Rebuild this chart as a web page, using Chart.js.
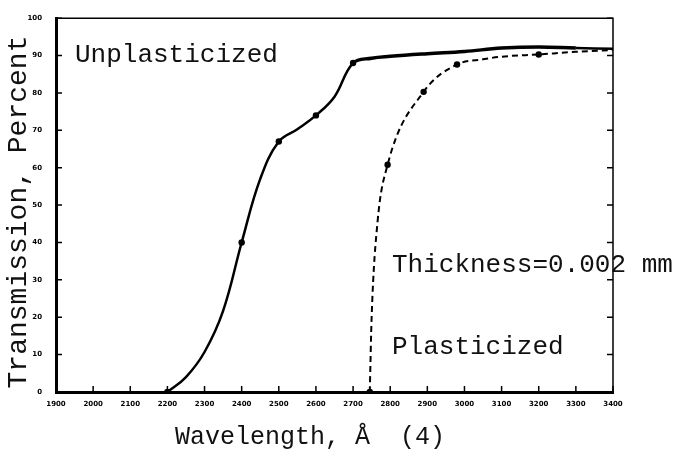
<!DOCTYPE html>
<html>
<head>
<meta charset="utf-8">
<script src="https://cdn.jsdelivr.net/npm/chart.js@4"></script>
<style>
  body { margin: 0; background: #fff; }
</style>
</head>
<body>
<canvas id="canvas" width="675" height="453"></canvas>
<script>
//****DATA****//

var unplasticizedWave = [2200, 2250, 2300, 2350, 2400, 2450, 2500, 2550, 2600, 2650, 2700, 2750, 2800, 2900, 3000, 3100, 3200, 3300, 3400];
var unplasticizedT = [0, 4, 10.7, 21.7, 40, 57, 67, 70.3, 74, 79, 88, 89.3, 89.8, 90.5, 91.1, 92, 92.3, 92, 91.8];
var unplasticizedDots = [2200, 2400, 2500, 2600, 2700];

var plasticizedWave = [2745, 2750, 2766, 2793, 2890, 2980, 3050, 3100, 3200, 3300, 3400];
var plasticizedT = [0, 20, 45.6, 60.8, 80.3, 87.6, 89, 89.7, 90.3, 91, 91.5];
var plasticizedDots = [2745, 2793, 2890, 2980, 3200];

var xTitle = 'Wavelength, Å  (4)';
var yTitle = 'Transmission, Percent';
var notes = [
  { text: 'Unplasticized', x: 75, y: 55 },
  { text: 'Thickness=0.002 mm', x: 392, y: 265 },
  { text: 'Plasticized', x: 392, y: 347 }
];

//****HELPERS****//

function toPoints(xs, ys) {
  var pts = [];
  for (var i = 0; i < xs.length; i++) {
    pts.push({ x: xs[i], y: ys[i] });
  }
  return pts;
}

function dotRadius(xs, dots) {
  return xs.map(function (x) { return dots.indexOf(x) >= 0 ? 3.2 : 0; });
}

var noteFont = '26px "Liberation Mono", "DejaVu Sans Mono", monospace';
var yTitleFont = '28px "Liberation Mono", "DejaVu Sans Mono", monospace';
var xTitleFont = '25px "Liberation Mono", "DejaVu Sans Mono", monospace';

//****PLUGIN: box, inward ticks, texts****//

var paperPlugin = {
  id: 'paper',
  afterDraw: function (chart) {
    var ctx = chart.ctx;
    var area = chart.chartArea;
    var xs = chart.scales.x;
    var ys = chart.scales.y;

    ctx.save();
    ctx.strokeStyle = '#000';

    // top and right edges of the box
    ctx.lineWidth = 1.5;
    ctx.beginPath();
    ctx.moveTo(area.left, area.top);
    ctx.lineTo(area.right, area.top);
    ctx.lineTo(area.right, area.bottom);
    ctx.stroke();

    // inward ticks
    ctx.beginPath();
    xs.ticks.forEach(function (t) {
      var px = xs.getPixelForValue(t.value);
      ctx.moveTo(px, area.bottom);
      ctx.lineTo(px, area.bottom - 6);
    });
    ys.ticks.forEach(function (t) {
      var py = ys.getPixelForValue(t.value);
      ctx.moveTo(area.left, py);
      ctx.lineTo(area.left + 6, py);
      ctx.moveTo(area.right, py);
      ctx.lineTo(area.right - 6, py);
    });
    ctx.stroke();

    // typed texts
    ctx.fillStyle = '#111';
    ctx.textBaseline = 'middle';
    ctx.textAlign = 'left';
    ctx.font = noteFont;
    notes.forEach(function (n) {
      ctx.fillText(n.text, n.x, n.y);
    });

    ctx.textAlign = 'center';
    ctx.font = xTitleFont;
    ctx.fillText(xTitle, 310, 437);

    ctx.font = yTitleFont;
    ctx.translate(19, 212);
    ctx.rotate(-Math.PI / 2);
    ctx.fillText(yTitle, 0, 0);
    ctx.restore();
  }
};

//****CHART****//

var ctx = document.getElementById('canvas').getContext('2d');

var chart = new Chart(ctx, {
  type: 'line',
  data: {
    datasets: [
      {
        label: 'Unplasticized',
        data: toPoints(unplasticizedWave, unplasticizedT),
        borderColor: '#000',
        backgroundColor: '#000',
        borderWidth: 2.5,
        segment: {
          borderWidth: function (c) { return c.p0.parsed.x >= 2700 && c.p0.parsed.x < 3300 ? 3.5 : 2.5; }
        },
        pointRadius: dotRadius(unplasticizedWave, unplasticizedDots),
        pointBorderWidth: 0,
        tension: 0.4,
        fill: false
      },
      {
        label: 'Plasticized',
        data: toPoints(plasticizedWave, plasticizedT),
        borderColor: '#000',
        backgroundColor: '#000',
        borderWidth: 2,
        borderDash: [6, 4],
        pointRadius: dotRadius(plasticizedWave, plasticizedDots),
        pointBorderWidth: 0,
        cubicInterpolationMode: 'monotone',
        fill: false
      }
    ]
  },
  options: {
    responsive: false,
    animation: false,
    layout: { padding: { left: 0, top: 15, right: 62, bottom: 0 } },
    plugins: {
      legend: { display: false },
      tooltip: { enabled: false }
    },
    scales: {
      x: {
        type: 'linear',
        min: 1900,
        max: 3400,
        afterFit: function (scale) { scale.height = 61; },
        border: { display: true, color: '#000', width: 3 },
        grid: { display: true, drawOnChartArea: false, drawTicks: false },
        ticks: {
          stepSize: 100,
          autoSkip: false,
          maxRotation: 0,
          padding: 8,
          color: '#000',
          font: { family: 'DejaVu Sans', size: 7, weight: 'bold' },
          callback: function (v) { return String(v); }
        }
      },
      y: {
        min: 0,
        max: 100,
        afterFit: function (scale) { scale.width = 56; },
        border: { display: true, color: '#000', width: 3 },
        grid: { display: true, drawOnChartArea: false, drawTicks: false },
        ticks: {
          stepSize: 10,
          padding: 14,
          color: '#000',
          font: { family: 'DejaVu Sans', size: 7, weight: 'bold' }
        }
      }
    }
  },
  plugins: [paperPlugin]
});
</script>
</body>
</html>
